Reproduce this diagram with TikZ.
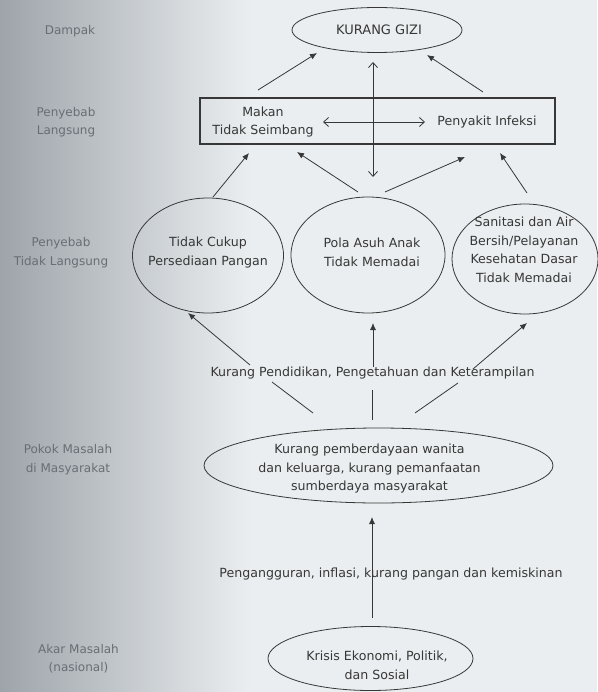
\documentclass[tikz,border=0pt]{standalone}
\usepackage{fontspec}
\setmainfont{DejaVu Sans}
\usepackage{tikz}
\usetikzlibrary{calc,arrows.meta}
\definecolor{tinta}{RGB}{55,55,55}
\definecolor{kertas}{RGB}{234,238,240}
\definecolor{tepi}{RGB}{158,164,170}
\definecolor{kabur}{RGB}{105,110,116}
\newcommand{\tingkat}[3]{% name, centre, text
  \node[lvl] (#1) at #2 {#3};
}

\begin{document}
\begin{tikzpicture}[x=1pt,y=-1pt,>={Latex[length=7pt,width=6pt]},line width=0.8pt,color=tinta,
  teks/.style={font=\fontsize{12.6}{18.5}\selectfont,align=center,text=tinta,inner sep=1pt},
  lvl/.style={font=\fontsize{12}{18.5}\selectfont,align=center,text=kabur},
  barb/.style={{Straight Barb[length=5pt,width=9pt]}-{Straight Barb[length=5pt,width=9pt]}}]
% page, with the shadow of the binding on the left
\useasboundingbox (0,0) rectangle (597,692);
\shade[left color=tepi,right color=kertas] (0,0) rectangle (250,692);
\fill[kertas] (250,0) rectangle (597,692);

% level names
\tingkat{tDampak}{(70,31)}{Dampak}
\tingkat{tLangsung}{(66,122)}{Penyebab\\Langsung}
\tingkat{tTidak}{(61,252.5)}{Penyebab\\Tidak Langsung}
\tingkat{tPokok}{(68,459.5)}{Pokok Masalah\\di Masyarakat}
\tingkat{tAkar}{(78.5,658.5)}{Akar Masalah\\(nasional)}

% texts
\node[teks,font=\fontsize{13}{15}\selectfont] (gizi) at (379,30) {KURANG GIZI};
\node[draw=tinta,line width=1.2pt,minimum width=355pt,minimum height=46pt,inner sep=0pt] (kotak) at (377.5,121) {};
\node[teks] (makan) at (263,122) {Makan\\Tidak Seimbang};
\node[teks] (infeksi) at (487,122) {Penyakit Infeksi};
\node[teks] (pangan) at (208,252.5) {Tidak Cukup\\Persediaan Pangan};
\node[teks] (asuh) at (372,252.5) {Pola Asuh Anak\\Tidak Memadai};
\node[teks] (sanitasi) at (524,250) {Sanitasi dan Air\\Bersih/Pelayanan\\Kesehatan Dasar\\Tidak Memadai};
\node[teks] (didik) at (372.5,373) {Kurang Pendidikan, Pengetahuan dan Keterampilan};
\node[teks] (berdaya) at (369.5,469) {Kurang pemberdayaan wanita\\dan keluarga, kurang pemanfaatan\\sumberdaya masyarakat};
\node[teks] (krisis) at (377,665.5) {Krisis Ekonomi, Politik,\\dan Sosial};

% ovals round the texts
\draw ($(gizi)+(-2,0)$) ellipse [x radius=85pt,y radius=22.5pt];
\draw ($(pangan)+(0,3)$) ellipse [x radius=75.5pt,y radius=57.5pt];
\draw ($(asuh)+(-4,2.5)$) ellipse [x radius=77pt,y radius=58pt];
\draw ($(sanitasi)+(1,9)$) ellipse [x radius=73pt,y radius=55pt];
\draw ($(berdaya)+(9,-3.5)$) ellipse [x radius=174.5pt,y radius=37.5pt];
\draw ($(krisis)+(-6.5,-7)$) ellipse [x radius=102.5pt,y radius=32pt];

% direct causes -> kurang gizi
\draw[->] ($(makan)+(-5,-32)$) to ($(gizi)+(-62,23)$);
\draw[->] ($(infeksi)+(-4,-30)$) to ($(gizi)+(48,25)$);
\draw[barb] ($(gizi)+(-6,32)$) to ($(asuh)+(1,-75.5)$);
\draw[barb] ($(makan)+(60,0)$) to ($(infeksi)+(-62,0)$);

% indirect causes -> direct causes
\draw[->] ($(pangan)+(5,-55.5)$) to ($(makan)+(-14,31)$);
\draw[->] ($(asuh)+(-14,-60.5)$) to ($(makan)+(34,30)$);
\draw[->] ($(asuh)+(13,-60.5)$) to ($(infeksi)+(-22,35)$);
\draw[->] ($(sanitasi)+(3,-57)$) to ($(infeksi)+(13,31)$);

% education
\draw[->] ($(didik)+(-122.5,-8)$) to ($(pangan)+(-20,60.5)$);
\draw[->] ($(didik)+(0.5,-6)$) to ($(asuh)+(1,70.5)$);
\draw[->] ($(didik)+(100.5,-4)$) to ($(sanitasi)+(3,73)$);
\draw ($(berdaya)+(-56.5,-56)$) to ($(didik)+(-100.5,9)$);
\draw ($(berdaya)+(2.5,-49)$) to ($(didik)+(-0.5,17)$);
\draw ($(berdaya)+(45.5,-56)$) to ($(didik)+(85.5,10)$);

% root
\draw[->] ($(krisis)+(-5,-47.5)$) to ($(berdaya)+(2.5,48)$);
\node[teks] (nganggur) at (391,574) {Pengangguran, inflasi, kurang pangan dan kemiskinan};
\end{tikzpicture}
\end{document}
